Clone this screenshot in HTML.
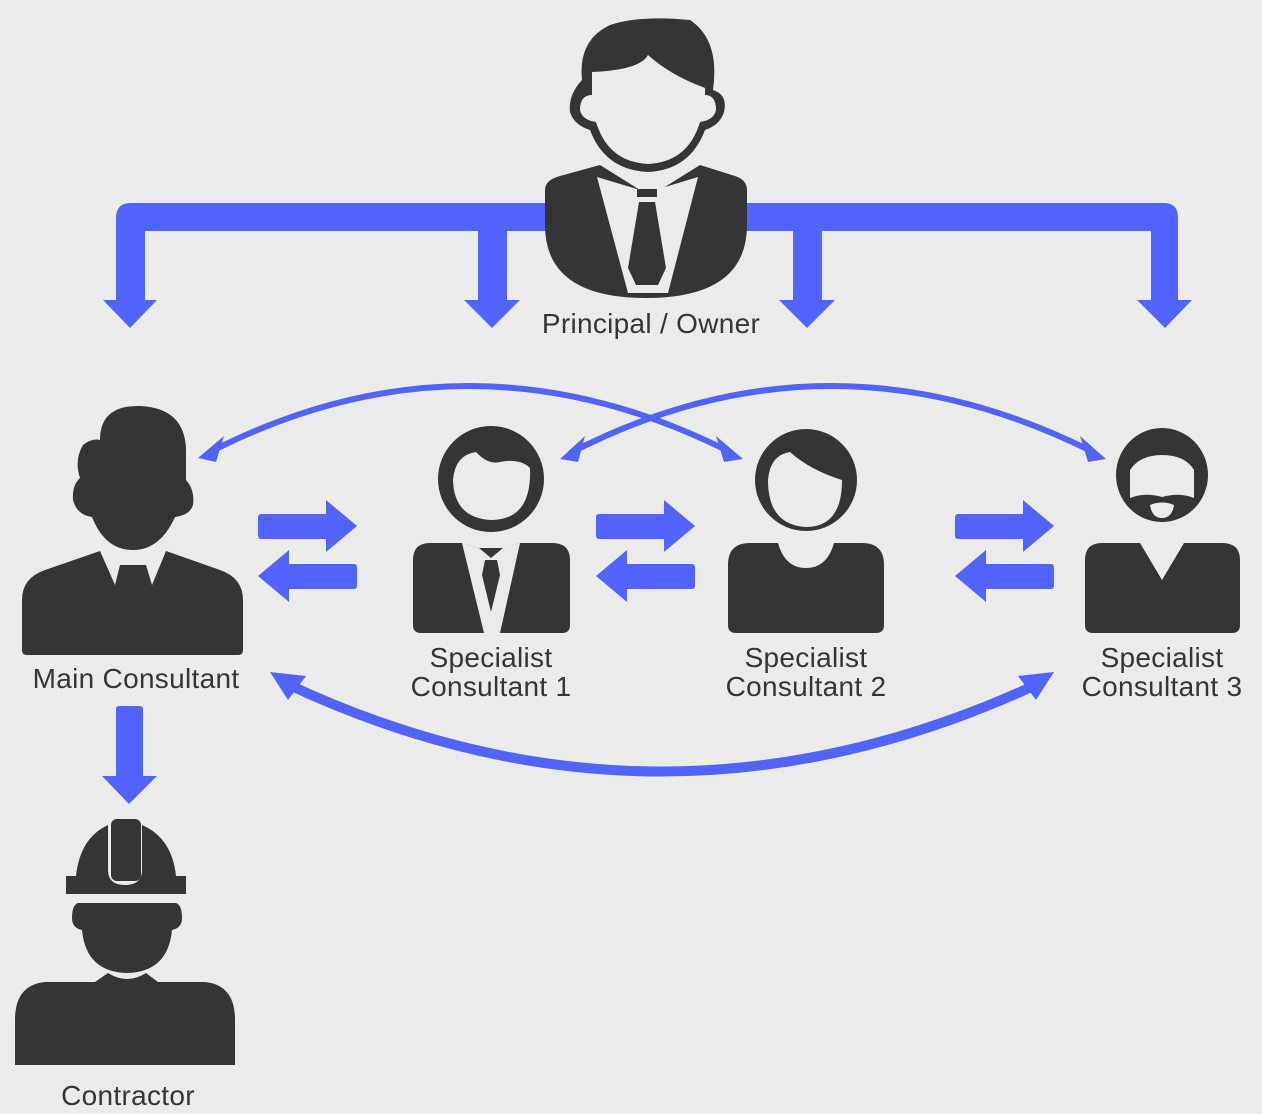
<!DOCTYPE html>
<html><head><meta charset="utf-8"><style>
html,body{margin:0;padding:0;background:#ebebeb;}
svg{display:block}
text{font-family:"Liberation Sans",Arial,sans-serif;font-size:28px;letter-spacing:0.3px;fill:#343537;text-anchor:middle}
</style></head><body>
<svg width="1262" height="1114" viewBox="0 0 1262 1114" xmlns="http://www.w3.org/2000/svg">
<rect width="1262" height="1114" fill="#ebebeb"/>
<g fill="#5164ff" stroke="none">
<path d="M116 218 Q116 203 131 203 L1164 203 Q1178 203 1178 218 L1178 300 L1151 300 L1151 231 L822 231 L822 300 L793 300 L793 231 L507 231 L507 300 L478 300 L478 231 L145 231 L145 300 L116 300 Z"/>
<polygon points="103,300 157,300 130,328"/>
<polygon points="464,300 520,300 492,328"/>
<polygon points="779,300 835,300 807,328"/>
<polygon points="1137,300 1192,300 1165,328"/>
<rect x="116" y="706" width="27" height="72" rx="3"/>
<polygon points="102,776 157,776 129,804"/>
<g id="dbl">
<rect x="258" y="514" width="72" height="25" rx="3"/>
<polygon points="326,500 357,526 326,552"/>
<rect x="285" y="564" width="72" height="25" rx="3"/>
<polygon points="289,550 258,576 289,602"/>
</g>
<use href="#dbl" x="338"/>
<use href="#dbl" x="697"/>
</g>
<g fill="none" stroke="#5164ff" stroke-width="6" stroke-linecap="round">
<path d="M210 452 Q468 320 730 452"/>
<path d="M572 452 Q830 320 1093 452"/>
<path d="M285 683 Q660 860 1040 683" stroke-width="10"/>
</g>
<g fill="#5164ff">
<polygon points="198,458 224,436 216,462"/>
<polygon points="743,459 716,436 724,462"/>
<polygon points="560,459 585,436 578,462"/>
<polygon points="1106,459 1080,436 1088,462"/>
<polygon points="270,672 306,676 288,700"/>
<polygon points="1054,672 1018,676 1036,700"/>
</g>

<g fill="#343537">
<path d="M545 190 Q545 180 560 176 L600 165 L640 190 L660 190 L700 165 L735 176 Q747 180 747 190 L747 225 Q747 298 646 298 Q545 298 545 225 Z"/>
<path d="M582 80 Q578 40 610 25 Q640 15 690 20 Q720 40 713 90 Q728 95 724 112 Q720 125 705 130 Q690 170 648 172 Q605 170 590 130 Q574 125 570 112 Q568 95 582 80 Z"/>
</g>
<g fill="#ebebeb">
<path d="M592 72 Q640 70 648 55 Q670 75 705 88 L705 95 Q716 95 716 110 Q714 120 700 122 Q688 162 648 164 Q608 162 596 122 Q582 120 580 110 Q580 95 592 95 Z"/>
<path d="M597 177 L640 190 L655 190 L698 177 L668 293 L628 293 Z"/>
</g>
<g fill="#343537">
<rect x="637" y="189" width="20" height="8"/>
<polygon points="639,202 655,202 666,268 658,285 636,285 628,268"/>
</g>

<g fill="#343537">
<path d="M100 440 Q100 405 140 406 Q185 408 186 450 L186 480 Q195 490 193 505 Q190 515 175 517 Q160 550 133 550 Q105 550 92 517 Q77 515 73 500 Q72 485 80 478 Q74 460 83 445 Q92 438 100 440 Z"/>
<path d="M22 600 Q22 578 45 570 L100 551 L115 585 L120 565 L146 565 L152 585 L166 551 L220 570 Q243 578 243 600 L243 650 Q243 655 238 655 L27 655 Q22 655 22 650 Z"/>
</g>

<g fill="#343537">
<circle cx="491" cy="479" r="53"/>
<path d="M413 560 Q413 543 430 543 L462 543 L479 548 L491 548 L504 548 L520 543 L552 543 Q570 543 570 560 L570 625 Q570 633 562 633 L421 633 Q413 633 413 625 Z"/>
</g>
<path fill="#ebebeb" d="M453 480 Q455 455 476 452 Q488 465 500 462 Q520 458 530 468 Q532 520 491 520 Q454 518 453 480 Z"/>
<path fill="#ebebeb" d="M462 543 L479 548 L491 558 L503 548 L520 543 L500 633 L484 633 Z"/>
<polygon fill="#343537" points="485,560 497,560 500,575 491,612 482,575"/>

<g fill="#343537">
<circle cx="806" cy="480" r="51"/>
<path d="M728 565 Q728 543 750 543 L778 543 Q785 568 806 568 Q827 568 834 543 L862 543 Q884 543 884 565 L884 625 Q884 633 876 633 L736 633 Q728 633 728 625 Z"/>
</g>
<path fill="#ebebeb" d="M768 480 Q770 455 790 452 Q810 470 842 480 Q842 527 806 527 Q768 525 768 480 Z"/>

<g fill="#343537">
<ellipse cx="1162" cy="475" rx="46" ry="47"/>
<path d="M1085 560 Q1085 543 1102 543 L1140 543 L1162 580 L1184 543 L1222 543 Q1240 543 1240 560 L1240 625 Q1240 633 1232 633 L1093 633 Q1085 633 1085 625 Z"/>
</g>
<path fill="#ebebeb" d="M1130 470 Q1140 455 1162 455 Q1185 455 1194 470 L1194 498 Q1180 492 1162 497 Q1145 492 1130 498 Z"/>
<path fill="#ebebeb" d="M1150 505 Q1162 500 1174 505 Q1172 518 1162 518 Q1152 518 1150 505 Z"/>

<g fill="#343537">
<path d="M76 876 Q80 838 108 825 L108 870 Q108 885 125 885 Q142 885 142 870 L142 825 Q172 838 176 876 L186 876 L186 894 L66 894 L66 876 Z"/>
<rect x="111" y="819" width="30" height="62" rx="6"/>
<path d="M78 903 L176 903 Q182 905 182 918 Q182 928 172 930 Q168 972 127 973 Q86 972 82 930 Q72 928 72 918 Q72 905 78 903 Z"/>
<path d="M15 1065 L15 1020 Q15 985 45 982 L95 982 L108 973 Q127 985 146 973 L158 982 L205 982 Q235 985 235 1020 L235 1065 Z"/>
</g>

<text x="651" y="333">Principal / Owner</text>
<text x="136" y="688">Main Consultant</text>
<text x="491" y="667">Specialist</text>
<text x="491" y="696">Consultant 1</text>
<text x="806" y="667">Specialist</text>
<text x="806" y="696">Consultant 2</text>
<text x="1162" y="667">Specialist</text>
<text x="1162" y="696">Consultant 3</text>
<text x="128" y="1105">Contractor</text>
</svg>
</body></html>
